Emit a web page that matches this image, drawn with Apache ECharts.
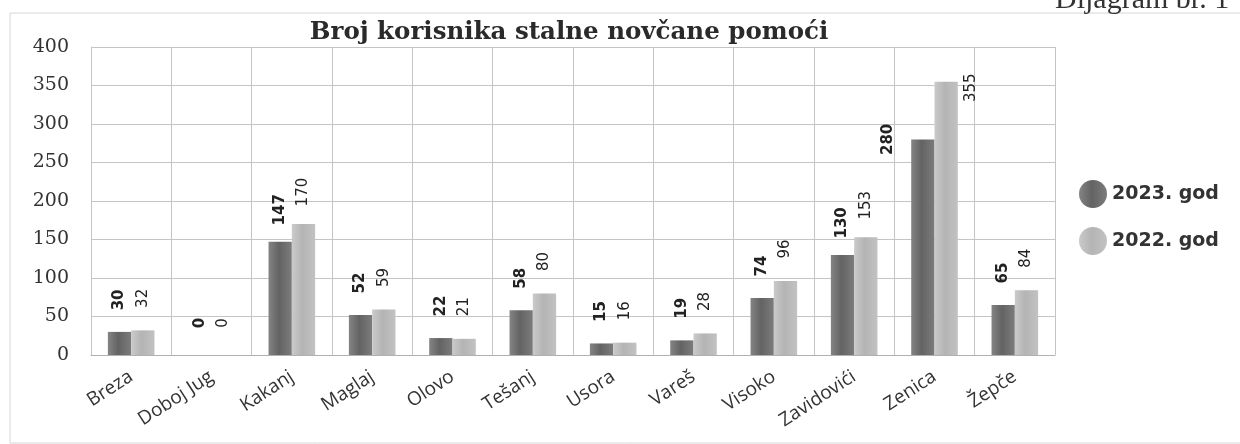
<!DOCTYPE html>
<html>
<head>
<meta charset="utf-8">
<script src="https://cdn.jsdelivr.net/npm/echarts@6/dist/echarts.min.js"></script>
<style>
  html, body { margin: 0; padding: 0; background: #fff; }
</style>
</head>
<body>
<div id="chart" style="width: 1240px; height: 444px;"></div>
<script>
// kategorije i vrijednosti
var opcine = ['Breza', 'Doboj Jug', 'Kakanj', 'Maglaj', 'Olovo', 'Tešanj', 'Usora', 'Vareš', 'Visoko', 'Zavidovići', 'Zenica', 'Žepče'];
var god2023 = [30, 0, 147, 52, 22, 58, 15, 19, 74, 130, 280, 65];
var god2022 = [32, 0, 170, 59, 21, 80, 16, 28, 96, 153, 355, 84];
var yTicks = [0, 50, 100, 150, 200, 250, 300, 350, 400];

var myChart = echarts.init(document.getElementById('chart'));

function barGrad(c1, c2, c3) {
    return new echarts.graphic.LinearGradient(0, 0, 1, 0, [
        { offset: 0, color: c1 },
        { offset: 0.45, color: c2 },
        { offset: 1, color: c3 }
    ]);
}

// Zenica - oznake su u originalu pomaknute pored stupca
// (offset je u zarotiranim koordinatama oznake)
var data2023 = god2023.map(function (v, i) {
    if (opcine[i] === 'Zenica') return { value: v, label: { offset: [-32, -35] } };
    return v;
});
var data2022 = god2022.map(function (v, i) {
    if (opcine[i] === 'Zenica') return { value: v, label: { offset: [-38, 25] } };
    return v;
});

var option = {
    backgroundColor: '#fff',
    animation: false,
    title: {
        text: 'Broj korisnika stalne novčane pomoći',
        left: 564,
        textAlign: 'center',
        top: 15,
        textStyle: {
            fontFamily: 'DejaVu Serif',
            fontWeight: 'bold',
            fontSize: 24.5,
            color: '#2a2a2a'
        }
    },
    graphic: [
        {
            type: 'rect',
            shape: { x: 10, y: 13, width: 1240, height: 430 },
            style: { fill: 'none', stroke: '#d6d6d6', lineWidth: 1 },
            silent: true
        },
        {
            type: 'text',
            left: 1055,
            top: -15,
            style: {
                text: 'Dijagram br. 1',
                font: '30px "Liberation Serif"',
                fill: '#333'
            }
        }
    ],
    legend: {
        orient: 'vertical',
        left: 1074,
        top: 175,
        icon: 'circle',
        itemWidth: 28,
        itemHeight: 28,
        itemGap: 19,
        textStyle: {
            fontFamily: 'DejaVu Sans',
            fontWeight: 'bold',
            fontSize: 19,
            color: '#333'
        },
        data: ['2023. god', '2022. god']
    },
    grid: {
        left: 91,
        right: 185,
        top: 47,
        bottom: 89
    },
    xAxis: {
        type: 'category',
        data: opcine,
        axisLine: { lineStyle: { color: '#b0b0b0' } },
        axisTick: { show: false },
        splitLine: { show: true, lineStyle: { color: '#c4c4c4' } },
        axisLabel: {
            rotate: 33,
            margin: 20,
            fontFamily: 'Open Sans',
            fontSize: 19,
            color: '#333'
        }
    },
    yAxis: {
        type: 'value',
        min: yTicks[0],
        max: yTicks[yTicks.length - 1],
        interval: 50,
        axisLine: { show: true, lineStyle: { color: '#c4c4c4' } },
        axisTick: { show: false },
        splitLine: { lineStyle: { color: '#c4c4c4' } },
        axisLabel: {
            margin: 22,
            fontFamily: 'DejaVu Serif',
            fontSize: 19,
            color: '#333'
        }
    },
    series: [
        {
            name: '2023. god',
            type: 'bar',
            barGap: '0%',
            barCategoryGap: '42%',
            itemStyle: { color: barGrad('#848484', '#636363', '#7c7c7c') },
            label: {
                show: true,
                position: 'top',
                rotate: 90,
                align: 'center',
                verticalAlign: 'middle',
                distance: 32,
                fontFamily: 'DejaVu Sans',
                fontWeight: 'bold',
                fontSize: 15,
                color: '#222'
            },
            data: data2023
        },
        {
            name: '2022. god',
            type: 'bar',
            itemStyle: { color: barGrad('#cacaca', '#b4b4b4', '#c2c2c2') },
            label: {
                show: true,
                position: 'top',
                rotate: 90,
                align: 'center',
                verticalAlign: 'middle',
                distance: 32,
                fontFamily: 'DejaVu Sans',
                fontSize: 15,
                color: '#222'
            },
            data: data2022
        }
    ]
};

myChart.setOption(option);
</script>
</body>
</html>
